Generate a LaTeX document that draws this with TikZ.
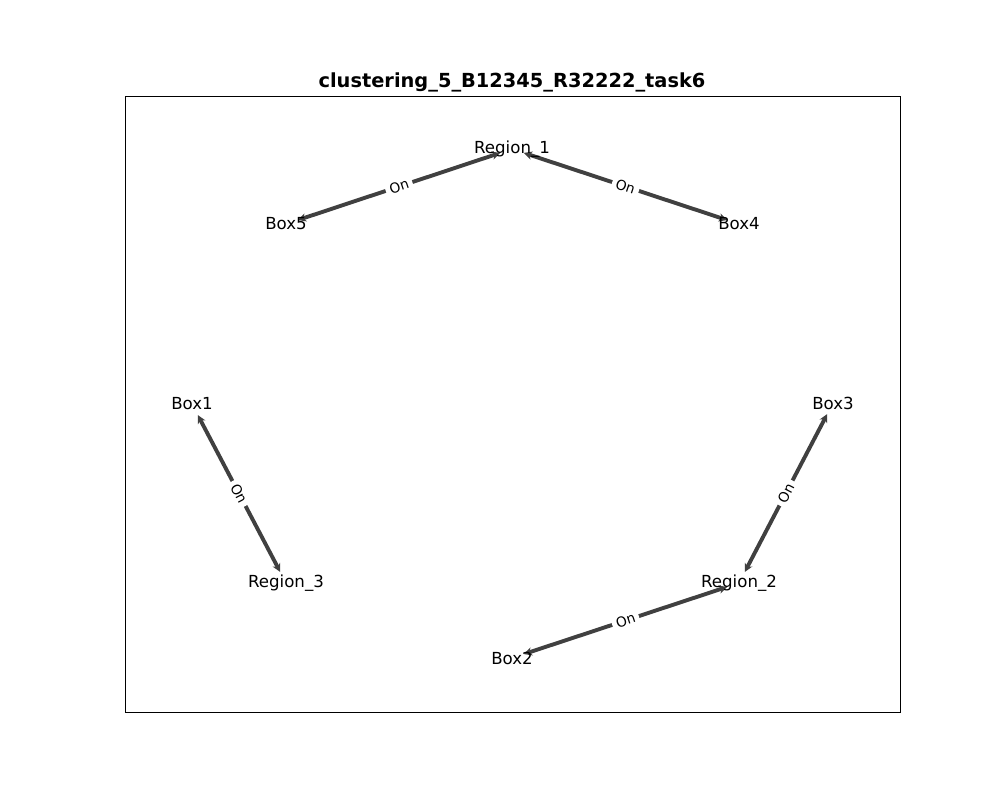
\documentclass[tikz,border=0pt]{standalone}
\usepackage{fontspec}
\setmainfont{DejaVu Sans}
\usetikzlibrary{arrows.meta,backgrounds}
\begin{document}
\begin{tikzpicture}[x=0.01in,y=-0.01in,
  vert/.style={inner sep=0pt,font=\fontsize{12}{14}\selectfont},
  rel/.style={draw=black!75,line width=2.8pt,shorten <=9pt,shorten >=9pt,
    {Stealth[length=6pt,width=6pt]}-{Stealth[length=6pt,width=6pt]}},
  lab/.style={sloped,fill=white,inner sep=3pt,font=\fontsize{10}{12}\selectfont,text=black}]
\useasboundingbox (0,0) rectangle (1000,800);
\draw[line width=0.6pt] (125,96) rectangle (900,712);
\node[font=\bfseries\fontsize{14}{16}\selectfont] (title) at (512,82) {clustering\_5\_B12345\_R32222\_task6};
\node[vert] (r1) at (512,149) {Region\_1};
\node[vert] (b5) at (286,224) {Box5};
\node[vert] (b4) at (739,224) {Box4};
\node[vert] (b1) at (192,404) {Box1};
\node[vert] (r3) at (286,583) {Region\_3};
\node[vert] (b3) at (833,403) {Box3};
\node[vert] (r2) at (739,583) {Region\_2};
\node[vert] (b2) at (512,658) {Box2};
\begin{scope}[on background layer]
\draw[rel] (r1.center) -- node[lab]{On} (b5.center);
\draw[rel] (r1.center) -- node[lab]{On} (b4.center);
\draw[rel] (b1.center) -- node[lab]{On} (r3.center);
\draw[rel] (b3.center) -- node[lab]{On} (r2.center);
\draw[rel] (r2.center) -- node[lab]{On} (b2.center);
\end{scope}
\end{tikzpicture}
\end{document}
